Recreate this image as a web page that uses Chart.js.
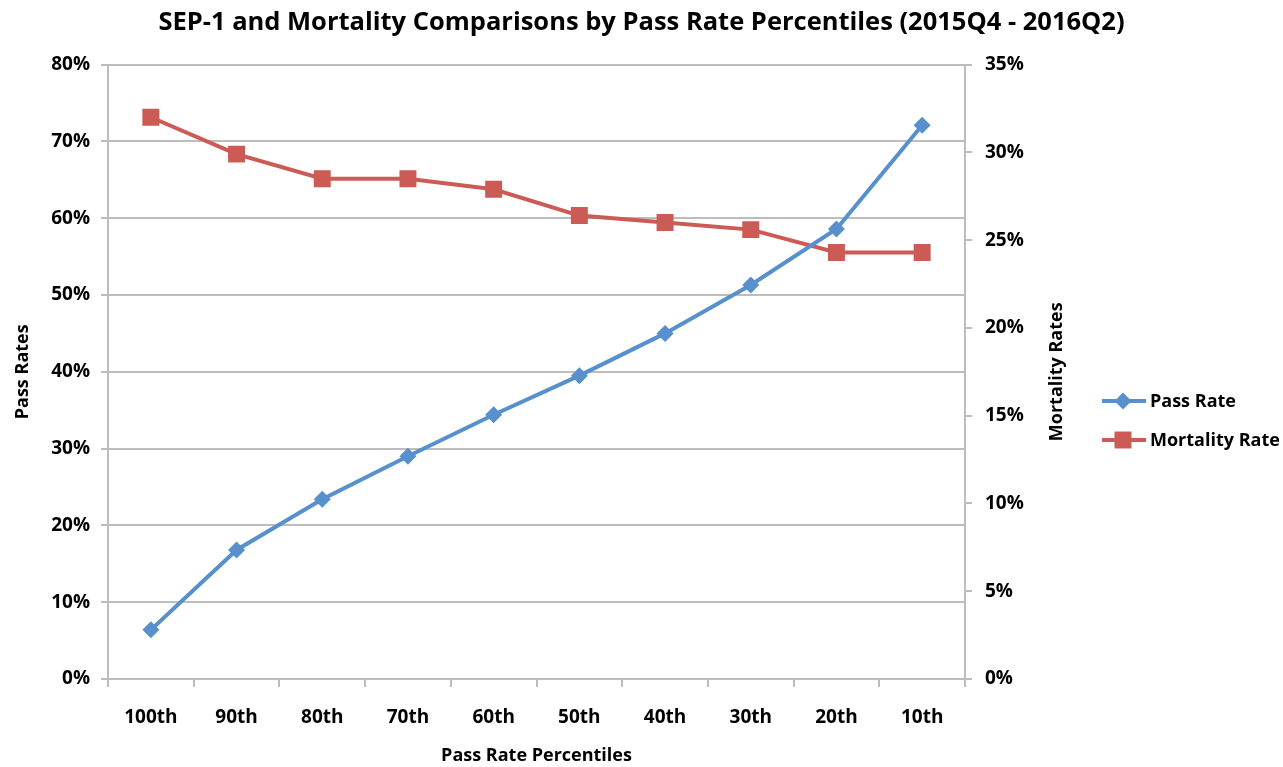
<!DOCTYPE html>
<html>
<head>
<meta charset="utf-8">
<script src="https://cdn.jsdelivr.net/npm/chart.js@4.4.1/dist/chart.umd.min.js"></script>
<style>
  html, body { margin: 0; padding: 0; background: #fff; }
  #wrap { width: 1283px; height: 767px; position: relative; }
</style>
</head>
<body>
<div id="wrap"><canvas id="chart"></canvas></div>
<script>
// ── Data ────────────────────────────────────────────────────────────────────
const percentiles    = ['100th', '90th', '80th', '70th', '60th', '50th', '40th', '30th', '20th', '10th'];
const passRates      = [6.4, 16.8, 23.4, 29.0, 34.4, 39.5, 45.0, 51.3, 58.6, 72.1];
const mortalityRates = [32.0, 29.9, 28.5, 28.5, 27.9, 26.4, 26.0, 25.6, 24.3, 24.3];
const passTicks      = { min: 0, max: 80, step: 10 };
const mortalityTicks = { min: 0, max: 35, step: 5 };

const FONT  = '"Open Sans", sans-serif';
const BLUE  = '#5790CC';
const RED   = '#CD5B55';
const GRID  = '#BDBDBD';
const TEXT  = '#000';

// Legend + right-axis title (Excel draws it bottom-to-top)
const sidePlugin = {
  id: 'sideLegend',
  afterDraw(chart) {
    const c = chart.ctx;
    const area = chart.chartArea;
    c.save();

    // right axis title
    c.translate(1057, (area.top + area.bottom) / 2);
    c.rotate(-Math.PI / 2);
    c.textAlign = 'center';
    c.textBaseline = 'middle';
    c.font = 'bold 18px ' + FONT;
    c.fillStyle = TEXT;
    c.fillText('Mortality Rates', 0, 0);
    c.setTransform(1, 0, 0, 1, 0, 0);

    // legend
    const items = [
      { label: 'Pass Rate',      color: BLUE, style: 'rectRot', r: 8.5, y: 401 },
      { label: 'Mortality Rate', color: RED,  style: 'rect',    r: 12,  y: 440 }
    ];
    items.forEach(it => {
      c.strokeStyle = it.color;
      c.lineWidth = 4;
      c.beginPath();
      c.moveTo(1102, it.y);
      c.lineTo(1146, it.y);
      c.stroke();
      c.fillStyle = it.color;
      Chart.helpers.drawPoint(c, { pointStyle: it.style, radius: it.r, borderWidth: 0 }, 1123, it.y);
      c.fillStyle = TEXT;
      c.textAlign = 'left';
      c.textBaseline = 'middle';
      c.font = 'bold 18px ' + FONT;
      c.fillText(it.label, 1150, it.y + 1);
    });
    c.restore();
  }
};

new Chart(document.getElementById('chart'), {
  type: 'line',
  data: {
    labels: percentiles,
    datasets: [
      {
        label: 'Pass Rate',
        data: passRates,
        yAxisID: 'y',
        borderColor: BLUE,
        backgroundColor: BLUE,
        borderWidth: 4,
        pointStyle: 'rectRot',
        pointRadius: 8.5,
        pointHoverRadius: 8.5,
        pointBorderWidth: 0,
        tension: 0
      },
      {
        label: 'Mortality Rate',
        data: mortalityRates,
        yAxisID: 'y1',
        borderColor: RED,
        backgroundColor: RED,
        borderWidth: 4,
        pointStyle: 'rect',
        pointRadius: 12,
        pointHoverRadius: 12,
        pointBorderWidth: 0,
        tension: 0
      }
    ]
  },
  options: {
    responsive: true,
    maintainAspectRatio: false,
    animation: false,
    layout: { padding: 0 },
    plugins: {
      legend: { display: false },
      tooltip: { enabled: false },
      title: {
        display: true,
        text: 'SEP-1 and Mortality Comparisons by Pass Rate Percentiles (2015Q4 - 2016Q2)',
        color: TEXT,
        font: { family: FONT, size: 25.5, weight: 'bold' },
        padding: { top: 7, bottom: 27 }
      }
    },
    scales: {
      x: {
        offset: true,
        grid: { offset: true, drawOnChartArea: false, color: GRID, lineWidth: 2, tickLength: 8 },
        border: { color: GRID, width: 2 },
        ticks: { color: TEXT, font: { family: FONT, size: 19, weight: 'bold' }, padding: 19, maxRotation: 0 },
        title: {
          display: true, text: 'Pass Rate Percentiles', color: TEXT,
          font: { family: FONT, size: 18, weight: 'bold' }, padding: { top: 13, bottom: 0 }
        },
        afterFit: s => { s.height = 88; }
      },
      y: {
        position: 'left',
        min: passTicks.min, max: passTicks.max,
        grid: { color: GRID, lineWidth: 2, tickLength: 7 },
        border: { color: GRID, width: 2 },
        ticks: {
          stepSize: passTicks.step, color: TEXT, padding: 11,
          font: { family: FONT, size: 19, weight: 'bold' },
          callback: v => v + '%'
        },
        title: {
          display: true, text: 'Pass Rates', color: TEXT,
          font: { family: FONT, size: 18, weight: 'bold' }, padding: { top: 12, bottom: 0 }
        },
        afterFit: s => { s.width = 108; }
      },
      y1: {
        position: 'right',
        min: mortalityTicks.min, max: mortalityTicks.max,
        grid: { drawOnChartArea: false, color: GRID, lineWidth: 2, tickLength: 7 },
        border: { color: GRID, width: 2 },
        ticks: {
          stepSize: mortalityTicks.step, color: TEXT, padding: 13,
          font: { family: FONT, size: 19, weight: 'bold' },
          callback: v => v + '%'
        },
        afterFit: s => { s.width = 318; }
      }
    }
  },
  plugins: [sidePlugin]
});
</script>
</body>
</html>
